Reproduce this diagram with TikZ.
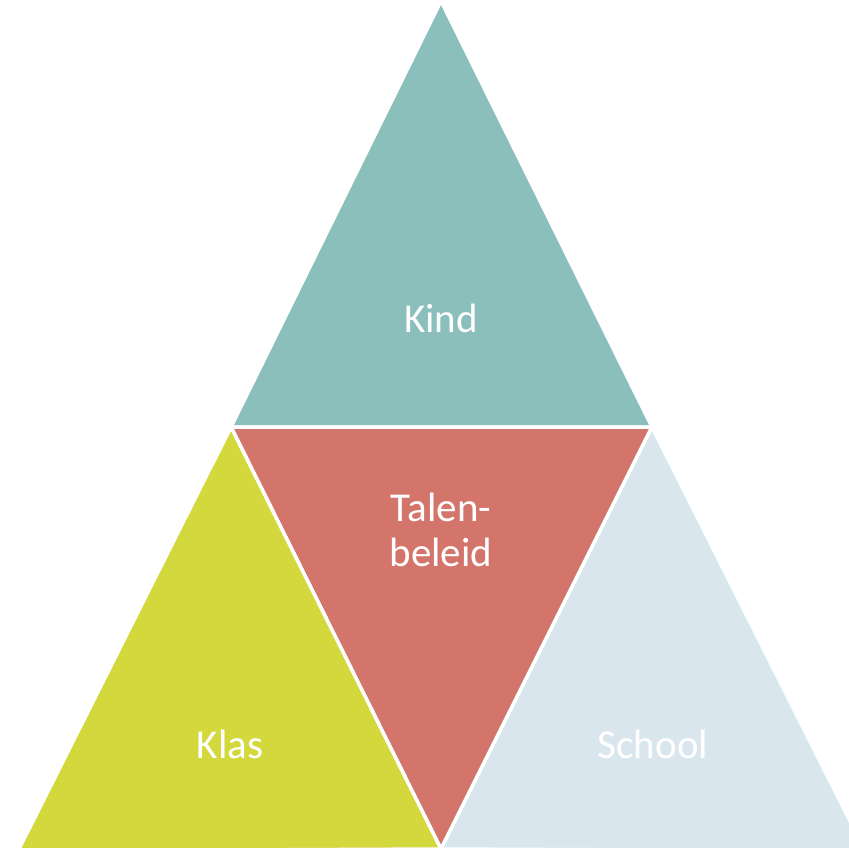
\documentclass[tikz,border=0pt]{standalone}
\usepackage{fontspec}
\setmainfont{Carlito}
\definecolor{kindc}{HTML}{8ABFBC}
\definecolor{talenc}{HTML}{D4756C}
\definecolor{klasc}{HTML}{D3D83C}
\definecolor{schoolc}{HTML}{DAE6EE}
\begin{document}
\begin{tikzpicture}[x=1pt,y=-1pt,
  tri/.style={draw=white,line width=3.5pt,line join=miter},
  lbl/.style={text=white,font=\fontsize{41}{45}\selectfont,align=center}]
\useasboundingbox (0,0) rectangle (849,847);
\clip (0,0) rectangle (849,847);
\coordinate (A) at (441,1);
\coordinate (L) at (231,427);
\coordinate (R) at (652,427);
\coordinate (B) at (441,849);
\coordinate (LL) at (18,851);
\coordinate (RR) at (865,851);
\fill[white] (0,0) rectangle (849,847);
\path[tri,fill=kindc] (A) -- (R) -- (L) -- cycle;
\path[tri,fill=talenc] (L) -- (R) -- (B) -- cycle;
\path[tri,fill=klasc] (L) -- (B) -- (LL) -- cycle;
\path[tri,fill=schoolc] (R) -- (RR) -- (B) -- cycle;
\node[lbl] (kind) at (441,318) {Kind};
\node[lbl] (talen) at (441,530) {Talen-\\beleid};
\node[lbl] (klas) at (230,744) {Klas};
\node[lbl] (school) at (653,744) {School};
\end{tikzpicture}
\end{document}
